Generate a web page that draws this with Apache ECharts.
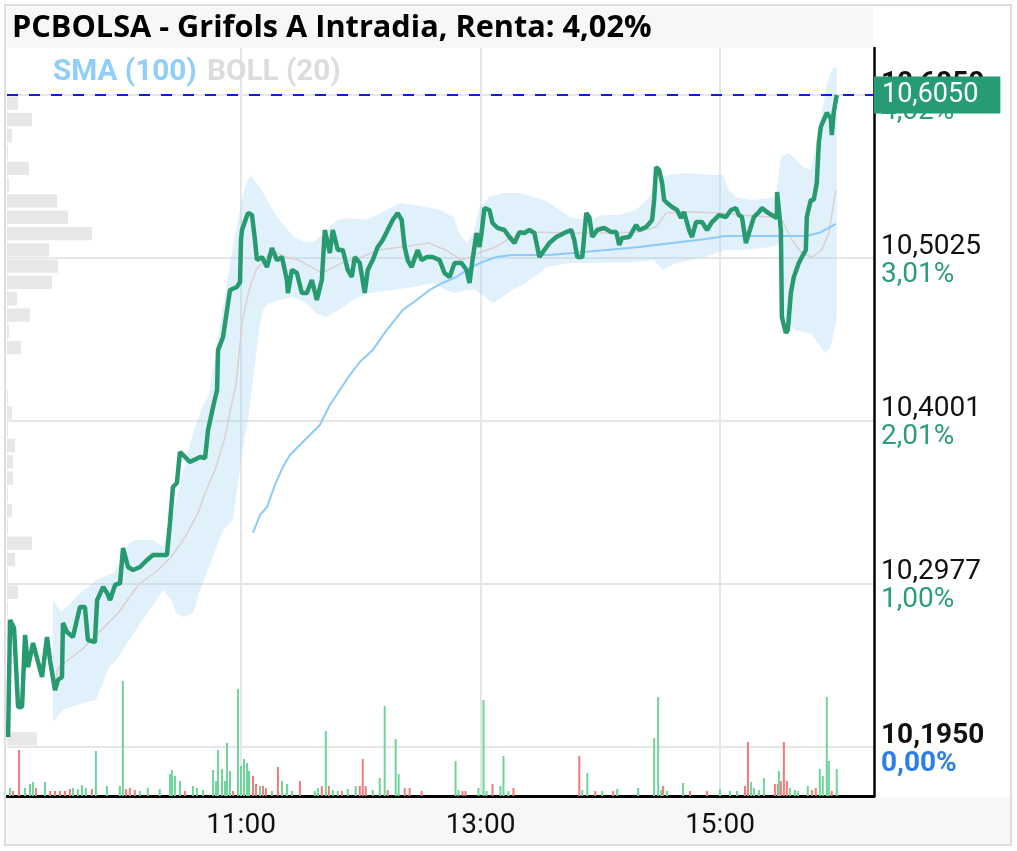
<!DOCTYPE html>
<html><head><meta charset="utf-8">
<script src="https://cdn.jsdelivr.net/npm/echarts@6/dist/echarts.min.js"></script>
<style>html,body{margin:0;padding:0;background:#fff}#c{width:1017px;height:851px}</style>
</head><body><div id="c"></div><script>
// Times are minutes after 09:00
const timeTicks = [120, 240, 360];
const priceTicks = [10.195, 10.2977, 10.4001, 10.5025, 10.605];
const priceTickLabels = ['10,1950', '10,2977', '10,4001', '10,5025', '10,6050'];
const pctTickLabels = ['0,00%', '1,00%', '2,01%', '3,01%', '4,02%'];
const lastPrice = 10.605;
const lastPriceLabel = '10,6050';

const pricePts = [[3.3,10.2013],[4.3,10.2749],[6.3,10.2698],[8.3,10.2202],[10.3,10.2202],[11.8,10.2654],[13.3,10.2453],[15.8,10.2604],[20.3,10.2390],[22.8,10.2642],[24.3,10.2497],[26.8,10.2308],[28.3,10.2371],[30.3,10.2390],[30.8,10.2730],[32.8,10.2673],[35.8,10.2642],[39.3,10.2830],[41.8,10.2830],[43.3,10.2623],[46.8,10.2610],[47.9,10.2874],[50.9,10.2956],[52.9,10.2918],[54.4,10.2874],[56.9,10.2969],[59.4,10.2981],[60.9,10.3201],[63.4,10.3082],[65.9,10.3063],[69.4,10.3082],[72.9,10.3126],[75.9,10.3157],[82.9,10.3157],[84.4,10.3359],[85.9,10.3585],[87.9,10.3610],[89.4,10.3805],[91.9,10.3774],[94.4,10.3742],[99.5,10.3774],[102,10.3767],[103.5,10.3943],[106,10.4088],[108,10.4195],[108.5,10.4446],[111,10.4528],[113,10.4698],[114.5,10.4824],[118,10.4843],[119.5,10.4874],[120,10.5138],[120.5,10.5201],[123.5,10.5308],[125.5,10.5295],[127,10.5138],[128,10.5012],[130.5,10.5031],[133,10.4968],[135.5,10.5088],[138,10.5012],[140.5,10.5031],[143,10.4887],[143.5,10.4805],[145.5,10.4950],[148,10.4931],[150.5,10.4805],[153,10.4805],[155.5,10.4887],[158,10.4761],[160.5,10.4887],[162,10.5201],[164.5,10.5056],[166,10.5201],[168.5,10.5075],[171,10.5075],[173.5,10.4950],[175.5,10.4906],[177,10.5031],[179.5,10.4994],[182,10.4805],[183.5,10.4950],[186,10.5012],[188.5,10.5094],[191,10.5138],[193.5,10.5201],[196,10.5264],[198.5,10.5308],[200.5,10.5264],[202,10.5094],[203.5,10.5012],[205.5,10.4968],[208.5,10.5075],[210.5,10.5012],[213,10.5031],[216,10.5031],[219.5,10.5012],[222,10.4931],[224.5,10.4906],[227,10.4994],[230.5,10.4994],[233,10.4950],[234.5,10.4868],[236,10.5012],[238,10.5182],[239.5,10.5094],[240.5,10.5182],[242,10.5339],[244.5,10.5327],[246,10.5245],[248.5,10.5214],[252,10.5201],[254.5,10.5157],[257,10.5119],[259.5,10.5188],[262,10.5182],[264.5,10.5201],[267,10.5182],[269.5,10.5031],[272,10.5075],[274.5,10.5119],[278,10.5157],[283,10.5188],[285.5,10.5201],[287,10.5138],[288.5,10.5031],[291,10.5031],[293,10.5308],[294.5,10.5283],[296,10.5157],[298.5,10.5201],[302,10.5214],[305.5,10.5188],[308,10.5188],[309.5,10.5107],[311,10.5151],[314.5,10.5157],[318,10.5233],[319.5,10.5201],[323,10.5220],[326,10.5264],[327,10.5390],[328,10.5597],[329.5,10.5578],[331,10.5497],[332,10.5390],[333.5,10.5371],[336,10.5346],[338.5,10.5327],[340.5,10.5277],[342,10.5314],[344.5,10.5201],[346,10.5157],[348,10.5251],[351,10.5251],[353.5,10.5201],[356,10.5251],[359.5,10.5295],[363,10.5283],[365.5,10.5327],[368,10.5339],[369.5,10.5295],[371,10.5283],[373,10.5119],[374.5,10.5182],[377,10.5283],[379.5,10.5314],[381,10.5339],[383.5,10.5314],[386,10.5295],[388.5,10.5277],[388.6,10.5440],[389.5,10.5440],[390.5,10.5201],[391,10.4654],[393,10.4553],[394,10.4572],[395.5,10.4805],[397,10.4906],[399.5,10.4994],[401,10.5031],[403,10.5075],[403.5,10.5283],[405.5,10.5390],[407,10.5390],[408.5,10.5497],[409.5,10.5748],[410.5,10.5849],[412,10.5893],[413.5,10.5937],[415.5,10.5905],[416,10.5798],[417,10.5943],[418.5,10.6050]];

const smaPts = [[126,10.3296],[129.5,10.3409],[133,10.3459],[137,10.3598],[141,10.3711],[144.5,10.3786],[148.5,10.3837],[154.5,10.3912],[159.5,10.3975],[164.5,10.4101],[169.5,10.4195],[174.5,10.4289],[179.5,10.4371],[186,10.4446],[193,10.4572],[201,10.4698],[208,10.4761],[214.5,10.4824],[221,10.4868],[228,10.4906],[234.5,10.4962],[241,10.5000],[248,10.5031],[256,10.5044],[274.5,10.5044],[286,10.5056],[303,10.5075],[319.5,10.5094],[336,10.5119],[353,10.5145],[363,10.5163],[386,10.5163],[403,10.5163],[409.5,10.5182],[414.5,10.5214],[418,10.5239]];

const bollUpper = [[25.8,10.2874],[29.8,10.2799],[34.8,10.2856],[39.8,10.2925],[43.8,10.2956],[47.3,10.3000],[56,10.3044],[60,10.3126],[64,10.3233],[67.5,10.3252],[76,10.3252],[81,10.3208],[85,10.3377],[90,10.3629],[95,10.3880],[100,10.4069],[104,10.4163],[107.5,10.4446],[111.5,10.4761],[116.5,10.5138],[121.5,10.5453],[124.5,10.5547],[129.5,10.5471],[133,10.5390],[138,10.5283],[146.5,10.5157],[151.5,10.5126],[156.5,10.5126],[161.5,10.5182],[168,10.5264],[174.5,10.5277],[183,10.5264],[193,10.5327],[199.5,10.5371],[206.5,10.5358],[213,10.5346],[219.5,10.5327],[226.5,10.5283],[229.5,10.5182],[233,10.5119],[236.5,10.5182],[239.5,10.5346],[244.5,10.5409],[251.5,10.5434],[259.5,10.5434],[266.5,10.5409],[273,10.5383],[284.5,10.5283],[293,10.5264],[301.5,10.5295],[309.5,10.5295],[318,10.5327],[324.5,10.5409],[329.5,10.5534],[334.5,10.5547],[343,10.5560],[356.5,10.5547],[361.5,10.5547],[364.5,10.5453],[368,10.5409],[376.5,10.5390],[384.5,10.5402],[388,10.5409],[390.5,10.5660],[394.5,10.5685],[398,10.5641],[401.5,10.5597],[405.5,10.5578],[408,10.5723],[411.5,10.5975],[414,10.6144],[416.5,10.6220],[418.5,10.6226]];

const bollLower = [[25.8,10.2107],[30.8,10.2183],[40.8,10.2227],[47.3,10.2246],[54,10.2453],[57.5,10.2497],[64,10.2623],[69,10.2717],[76,10.2843],[81,10.2937],[85,10.2874],[87.5,10.2793],[91,10.2768],[96,10.2793],[99,10.2918],[104,10.3082],[111,10.3315],[116,10.3377],[117.5,10.3522],[121,10.3837],[124,10.4050],[126,10.4258],[129,10.4572],[131,10.4698],[134,10.4742],[146,10.4780],[152.5,10.4742],[157.5,10.4679],[162.5,10.4654],[169,10.4698],[176,10.4761],[184,10.4805],[196,10.4824],[206,10.4843],[216,10.4868],[222.5,10.4824],[227.5,10.4805],[232.5,10.4824],[237.5,10.4824],[242.5,10.4780],[246,10.4742],[251,10.4780],[256,10.4824],[262.5,10.4868],[269.5,10.4931],[273,10.4968],[284.5,10.4994],[293,10.4994],[318,10.5000],[326.5,10.5012],[331.5,10.4950],[338,10.4994],[352.5,10.5031],[362.5,10.5075],[372.5,10.5075],[385.5,10.5094],[390.5,10.5119],[391,10.4654],[395,10.4610],[397.5,10.4572],[405.5,10.4553],[410.5,10.4465],[412.5,10.4428],[415.5,10.4465],[417.5,10.4591],[418.5,10.4654]];

const bollMid = [[26,10.2308],[28.3,10.2447],[40,10.2560],[48.5,10.2667],[58.5,10.2793],[68.5,10.2969],[78.5,10.3063],[85,10.3145],[92,10.3271],[98.5,10.3422],[102,10.3547],[107,10.3692],[112,10.3899],[115,10.4088],[117.5,10.4226],[120.5,10.4616],[124,10.4824],[127.5,10.4950],[130.5,10.4994],[135.5,10.5075],[142.5,10.5031],[149,10.5012],[160.5,10.4931],[170.5,10.4994],[180.5,10.5031],[189,10.5075],[200.5,10.5094],[214,10.5119],[222.5,10.5075],[230.5,10.5012],[239,10.5056],[247.5,10.5094],[256,10.5157],[264.5,10.5188],[286,10.5182],[303,10.5182],[319.5,10.5188],[328,10.5220],[333,10.5308],[344.5,10.5314],[361,10.5308],[369.5,10.5295],[386,10.5283],[391,10.5264],[396,10.5138],[401,10.5056],[406,10.5031],[411,10.5075],[414.5,10.5182],[418,10.5453]];

// [minute, shares, up(1)/down(0)]
const volumes = [[4.3,1600,1],[5.8,1000,0],[8.8,9200,0],[11.8,1600,1],[14.3,2400,1],[15.8,2800,1],[17.3,1600,0],[21.8,2800,1],[24.3,1000,0],[26.8,1000,0],[29.3,1000,0],[31.8,1000,0],[34.3,1400,0],[35.8,1600,1],[38.3,1400,1],[40.3,2200,1],[42.3,1600,1],[45.3,1400,0],[47.3,9000,1],[52.8,2000,1],[59.3,2000,1],[60.8,23000,1],[62.3,1400,0],[64.3,1600,0],[66.8,1200,0],[69.3,1000,1],[73.3,1600,1],[79.3,1400,1],[84.4,4400,1],[85.4,5200,1],[86.9,4000,1],[89.4,3000,1],[91.9,1000,0],[95.9,2000,1],[97.9,1600,1],[101,1200,1],[106,5200,1],[107.5,3000,1],[108.5,9200,1],[110.5,5400,1],[112,3000,1],[113,10600,1],[114.5,5000,1],[116,1000,0],[118.5,21400,1],[120,6000,1],[121.5,7400,1],[123,6600,1],[124,5000,1],[126,4000,0],[127.5,2400,0],[129.5,2000,1],[131,2000,0],[132.5,1600,0],[135.5,1000,1],[138.5,5800,0],[140.5,3000,1],[143,2400,1],[145.5,1000,1],[149.5,3000,0],[157,1000,1],[158.5,1600,1],[160.5,2000,0],[162.5,13000,1],[164,2000,0],[166,1200,1],[168.5,1000,1],[170.5,1000,0],[173.5,1400,1],[177.5,2000,1],[179.5,2000,0],[181,7400,0],[182.5,2000,0],[186,1200,1],[189.5,3600,1],[192,18000,1],[193.5,1200,0],[197.5,11400,1],[199,4400,1],[202,1600,0],[204.5,1600,0],[210.5,1000,0],[227.5,7000,1],[229,1200,1],[231,1000,0],[232.5,1000,0],[239,1600,1],[241.5,19200,1],[243,1000,1],[246,2400,0],[250,2000,1],[251.5,8000,1],[254,1000,1],[256.5,1600,0],[289.5,8000,0],[291,1200,1],[293.5,4600,1],[297.5,1000,0],[301,1000,1],[306.5,1000,0],[308.5,1400,1],[319,1600,1],[327,11600,1],[329,19800,1],[330.5,1200,1],[331.5,2000,0],[333.5,1000,1],[341.5,2600,1],[345,1000,0],[353.5,1000,0],[360,1400,1],[365,1000,1],[368.5,1000,1],[372.5,2000,0],[374,10800,0],[375.5,2800,1],[377,1600,1],[379.5,1200,1],[382,3600,1],[387.5,2400,0],[389,2400,0],[389.5,5000,1],[390.5,3000,0],[392,10800,0],[393.5,3000,0],[395,1600,1],[397.5,1200,1],[399,1000,1],[404,2000,1],[406,1200,0],[408,1600,0],[410,5400,1],[411.5,4000,1],[413.5,19800,1],[414.5,7000,1],[416,1000,0],[418.5,5400,1]];

// Volume profile by price bin (from 10.1950 upward, bin 0.01025)
const profileBase = 10.195;
const profileStep = 0.01025;
const profileVol = [30000,1000,1000,2000,1000,0,1000,2000,1000,11000,1000,8000,25000,1000,5000,1000,6000,6000,8000,1000,5000,1000,0,0,14000,2000,23000,10000,45000,51000,42000,85000,61000,50000,2000,22000,1000,5000,25000,11000];

const GREEN = '#279b6f';
const chart = echarts.init(document.getElementById('c'));
const fmtTime = v => (9 + Math.floor(v / 60)) + ':' + String(Math.round(v % 60)).padStart(2, '0');
const tickIdx = v => priceTicks.findIndex(t => Math.abs(t - v) < 1e-6);

chart.setOption({
  animation: false,
  backgroundColor: '#ffffff',
  grid: { left: 7, right: 143, top: 48, bottom: 55 },
  xAxis: [{
    type: 'value', min: 2.756, max: 437.16,
    axisLine: { show: true, onZero: false, lineStyle: { color: '#000', width: 3 } },
    axisTick: { show: false, customValues: timeTicks },
    axisLabel: { customValues: timeTicks, formatter: fmtTime, fontSize: 28, color: '#111', margin: 16, fontFamily: 'Roboto' },
    splitLine: { show: true, lineStyle: { color: '#e6e6e6', width: 2 } }
  }, {
    type: 'value', min: 0, max: 867000, show: false
  }],
  yAxis: [{
    type: 'value', position: 'right', min: 10.16419, max: 10.63456,
    axisLine: { show: true, onZero: false, lineStyle: { color: '#000', width: 2.5 } },
    axisTick: { show: false, customValues: priceTicks },
    axisLabel: {
      customValues: priceTicks, margin: 7, padding: [5, 0, 0, 0],
      formatter: v => {
        const i = tickIdx(v);
        if (i < 0) return '';
        const bold = (i === 0 || i === priceTicks.length - 1);
        return '{' + (bold ? 'pb' : 'p') + '|' + priceTickLabels[i] + '}\n{' + (i === 0 ? 'zb' : 'g') + '|' + pctTickLabels[i] + '}';
      },
      rich: {
        p: { fontSize: 28, lineHeight: 28, color: '#111', fontFamily: 'Roboto' },
        pb: { fontSize: 28, lineHeight: 28, color: '#111', fontFamily: 'Roboto', fontWeight: 'bold' },
        g: { fontSize: 28, lineHeight: 28, color: '#2a9e74', fontFamily: 'Roboto' },
        zb: { fontSize: 28, lineHeight: 28, color: '#2b7fe6', fontFamily: 'Roboto', fontWeight: 'bold' }
      }
    },
    splitLine: { show: true, lineStyle: { color: '#e6e6e6', width: 2 } }
  }, {
    type: 'value', min: 0, max: 149600, show: false
  }],
  graphic: [
    { type: 'rect', z: -1, silent: true, shape: { x: 7, y: 7, width: 866, height: 41 }, style: { fill: '#f7f7f7' } },
    { type: 'rect', z: -1, silent: true, shape: { x: 7, y: 797, width: 1003, height: 48 }, style: { fill: '#f7f7f7' } },
    { type: 'rect', z: 100, silent: true, shape: { x: 5, y: 5, width: 1006, height: 840 }, style: { fill: 'none', stroke: '#dedede', lineWidth: 2 } },
    { type: 'text', z: 100, x: 12, y: 28, style: { text: 'PCBOLSA - Grifols A Intradia, Renta: 4,02%', fontSize: 30.7, fontWeight: 'bold', fontFamily: 'Open Sans', fill: '#000', verticalAlign: 'middle' } },
    { type: 'text', z: 100, x: 53, y: 73, style: { text: 'SMA (100)', fontSize: 29.7, fontWeight: 'bold', fontFamily: 'Roboto', fill: '#90cff8', verticalAlign: 'middle' } },
    { type: 'text', z: 100, x: 207, y: 73, style: { text: 'BOLL (20)', fontSize: 29.7, fontWeight: 'bold', fontFamily: 'Roboto', fill: '#dcdcdc', verticalAlign: 'middle' } }
  ],
  series: [
    {
      type: 'custom', name: 'Perfil', xAxisIndex: 1, yAxisIndex: 0, z: 1, silent: true,
      data: profileVol.map((v, i) => [v, profileBase + i * profileStep]),
      renderItem: (params, api) => {
        const v = api.value(0), lo = api.value(1);
        if (v <= 0) return null;
        const a = api.coord([0, lo + profileStep]);
        const b = api.coord([v, lo]);
        return { type: 'rect', shape: { x: a[0], y: a[1] + 1.5, width: b[0] - a[0], height: b[1] - a[1] - 3 }, style: { fill: '#e7e7e7' } };
      }
    },
    {
      type: 'bar', name: 'Volumen', xAxisIndex: 0, yAxisIndex: 1, z: 2, barWidth: 2, silent: true,
      data: volumes.map(d => ({ value: [d[0], d[1]], itemStyle: { color: d[2] ? '#6dd49a' : '#f27a7a' } }))
    },
    {
      type: 'custom', name: 'BOLL (20)', xAxisIndex: 0, yAxisIndex: 0, z: 3, silent: true,
      data: [bollUpper[0]],
      renderItem: (params, api) => {
        const pts = bollUpper.map(d => api.coord(d)).concat(bollLower.slice().reverse().map(d => api.coord(d)));
        return { type: 'polygon', shape: { points: pts }, style: { fill: 'rgba(160,210,246,0.32)' } };
      }
    },
    {
      type: 'line', name: 'BOLL mid', z: 4, symbol: 'none', silent: true, data: bollMid,
      lineStyle: { color: '#dccfcf', width: 1.5 }
    },
    {
      type: 'line', name: 'SMA (100)', z: 5, symbol: 'none', silent: true, data: smaPts,
      lineStyle: { color: '#8ccaf7', width: 2 }
    },
    {
      type: 'line', name: 'Precio', z: 6, symbol: 'none', silent: true, data: pricePts,
      lineStyle: { color: GREEN, width: 4.5 },
      markLine: {
        silent: true, symbol: 'none', precision: 4,
        lineStyle: { color: '#1616f0', type: [11, 11], width: 2 },
        label: {
          show: true, position: 'end', distance: 0, formatter: lastPriceLabel,
          backgroundColor: '#279c72', color: '#fff', fontSize: 27, fontFamily: 'Roboto',
          lineHeight: 27, padding: [5, 22, 5, 8]
        },
        data: [{ yAxis: lastPrice }]
      }
    }
  ]
});
</script></body></html>
